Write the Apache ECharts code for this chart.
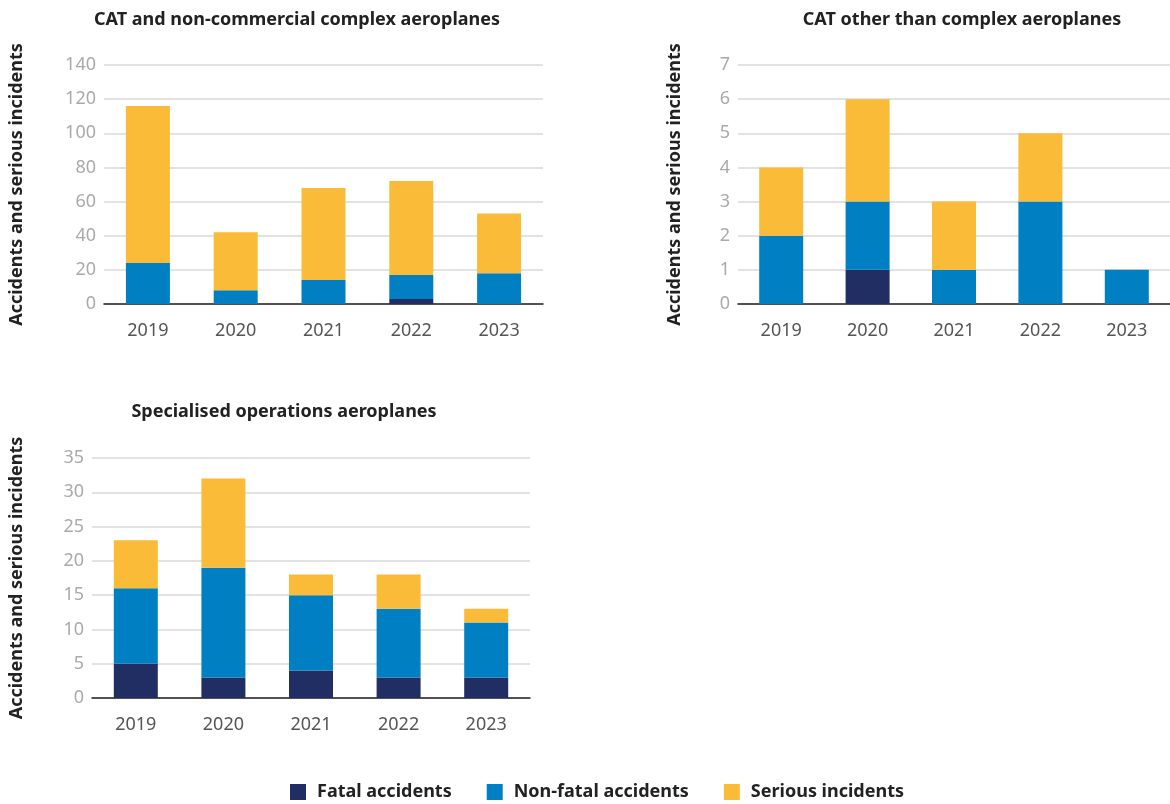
<!DOCTYPE html>
<html>
<head>
<meta charset="utf-8">
<script src="https://cdn.jsdelivr.net/npm/echarts@6/dist/echarts.min.js"></script>
<style>
  html, body { margin: 0; padding: 0; background: #fff; }
  #chart { width: 1170px; height: 804px; }
</style>
</head>
<body>
<div id="chart"></div>
<script>
var years = ['2019', '2020', '2021', '2022', '2023']

// CAT and non-commercial complex aeroplanes
var complexFatal = [0, 0, 0, 3, 0]
var complexNonFatal = [24, 8, 14, 14, 18]
var complexSerious = [92, 34, 54, 55, 35]

// CAT other than complex aeroplanes
var otherFatal = [0, 1, 0, 0, 0]
var otherNonFatal = [2, 2, 1, 3, 1]
var otherSerious = [2, 3, 2, 2, 0]

// Specialised operations aeroplanes
var specFatal = [5, 3, 4, 3, 3]
var specNonFatal = [11, 16, 11, 10, 8]
var specSerious = [7, 13, 3, 5, 2]

var seriesNames = ['Fatal accidents', 'Non-fatal accidents', 'Serious incidents']
var colors = ['#212e63', '#0080c3', '#f9bb38']
var font = '"Noto Sans", sans-serif'

var chart = echarts.init(document.getElementById('chart'))

function makeX(idx) {
  return {
    type: 'category',
    gridIndex: idx,
    data: years,
    axisTick: { show: false },
    axisLine: { lineStyle: { color: '#222', width: 1.5 } },
    axisLabel: { color: '#555', fontSize: 18, fontFamily: font, margin: 18 }
  }
}

function makeY(idx, max, interval, gap) {
  return {
    type: 'value',
    gridIndex: idx,
    min: 0,
    max: max,
    interval: interval,
    name: 'Accidents and serious incidents',
    nameLocation: 'middle',
    nameRotate: 90,
    nameGap: gap,
    nameTextStyle: { color: '#222', fontSize: 18, fontWeight: 'bold', fontFamily: font },
    axisLabel: { color: '#aaa', fontSize: 18, fontFamily: font, margin: 8 },
    splitLine: { lineStyle: { color: '#d9d9d9', width: 1.5 } }
  }
}

function makeSeries(idx, fatal, nonFatal, serious) {
  return [fatal, nonFatal, serious].map(function (d, i) {
    return {
      name: seriesNames[i],
      type: 'bar',
      stack: 'g' + idx,
      xAxisIndex: idx,
      yAxisIndex: idx,
      barWidth: 44,
      itemStyle: { color: colors[i] },
      data: d
    }
  })
}

var titleStyle = { color: '#222', fontSize: 18, fontWeight: 'bold', fontFamily: font }

chart.setOption({
  animation: false,
  title: [
    { text: 'CAT and non-commercial complex aeroplanes', left: 292, top: 6, textAlign: 'center', textStyle: titleStyle },
    { text: 'CAT other than complex aeroplanes', left: 957, top: 6, textAlign: 'center', textStyle: titleStyle },
    { text: 'Specialised operations aeroplanes', left: 279, top: 398, textAlign: 'center', textStyle: titleStyle }
  ],
  legend: {
    data: seriesNames,
    top: 778,
    left: 285,
    icon: 'rect',
    itemWidth: 16,
    itemHeight: 16,
    itemGap: 35,
    textStyle: { color: '#222', fontSize: 18, fontWeight: 'bold', fontFamily: font, padding: [0, 0, 0, 6] }
  },
  grid: [
    { left: 104, top: 65, width: 439, height: 239 },
    { left: 738, top: 65, width: 432, height: 239 },
    { left: 92, top: 458, width: 438, height: 240 }
  ],
  xAxis: [makeX(0), makeX(1), makeX(2)],
  yAxis: [makeY(0, 140, 20, 78), makeY(1, 7, 1, 54), makeY(2, 35, 5, 66)],
  series: []
    .concat(makeSeries(0, complexFatal, complexNonFatal, complexSerious))
    .concat(makeSeries(1, otherFatal, otherNonFatal, otherSerious))
    .concat(makeSeries(2, specFatal, specNonFatal, specSerious))
})
</script>
</body>
</html>
